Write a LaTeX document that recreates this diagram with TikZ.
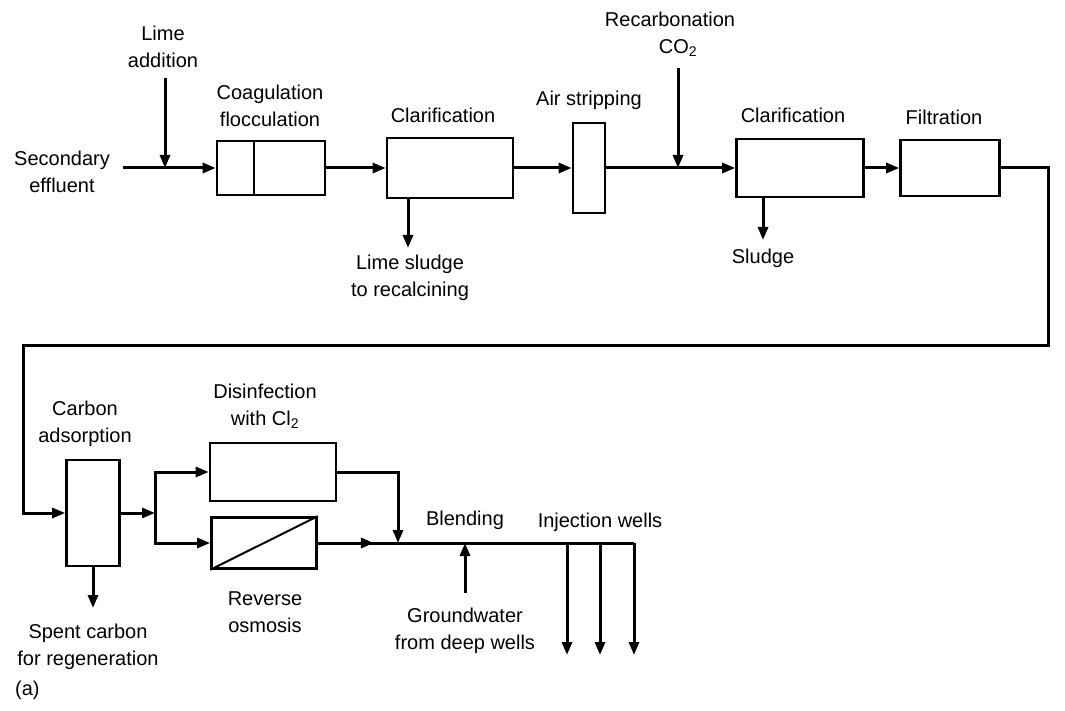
\documentclass[tikz,border=0pt]{standalone}
\usepackage{fontspec}
\setmainfont{Liberation Sans}
\usetikzlibrary{arrows.meta,decorations.markings}
\begin{document}
\begin{tikzpicture}[x=1pt,y=-1pt,
 box/.style={draw,line width=2.6pt,rectangle,inner sep=0pt},
 pipe/.style={line width=3pt},
 flow/.style={line width=3pt,-{Triangle[length=13pt,width=10pt]}},
 midarrow/.style={line width=3pt,postaction={decorate},decoration={markings,mark=at position #1 with {\arrow{Triangle[length=13pt,width=10pt]}}}},
 lbl/.style={align=center,font=\fontsize{20}{27}\selectfont,inner sep=0pt}
]
\useasboundingbox[fill=white] (0,0) rectangle (1065,711);

% boxes
\node[box,minimum width=108pt,minimum height=54pt] (coag) at (271,168) {};
\draw[line width=2.6pt] (254,141) -- (254,195);
\node[box,minimum width=126pt,minimum height=60pt] (clar1) at (450,168) {};
\node[box,minimum width=32pt,minimum height=90pt] (air) at (589,168) {};
\node[box,minimum width=127pt,minimum height=58pt] (clar2) at (800,168) {};
\node[box,minimum width=99pt,minimum height=56pt] (filt) at (950,168) {};
\node[box,minimum width=53pt,minimum height=106pt] (carb) at (93,513) {};
\node[box,minimum width=126pt,minimum height=58pt] (dis) at (273,472) {};
\node[box,minimum width=105pt,minimum height=51pt] (ro) at (264,543) {};
\draw[line width=2pt] (ro.south west) -- (ro.north east);

% labels
\node[lbl] (tseff) at (62,172) {Secondary\\effluent};
\node[lbl] (tlime) at (163,47) {Lime\\addition};
\node[lbl] (tcoag) at (270,106) {Coagulation\\flocculation};
\node[lbl] (tclar1) at (443,115) {Clarification};
\node[lbl] (tls) at (410,278) {Lime sludge\\to recalcining};
\node[lbl] (tair) at (589,100) {Air stripping};
\node[lbl,align=center] (trec) at (670,34) {Recarbonation\\\hspace*{16pt}CO\textsubscript{2}};
\node[lbl] (tclar2) at (793,115) {Clarification};
\node[lbl] (tsl) at (763,258) {Sludge};
\node[lbl] (tfilt) at (944,117) {Filtration};
\node[lbl] (tcarb) at (85,424) {Carbon\\adsorption};
\node[lbl] (tdis) at (265,406) {Disinfection\\with Cl\textsubscript{2}};
\node[lbl] (tro) at (265,612) {Reverse\\osmosis};
\node[lbl] (tspent) at (88,647) {Spent carbon\\for regeneration};
\node[lbl] (tblend) at (465,520) {Blending};
\node[lbl] (tinj) at (600,522) {Injection wells};
\node[lbl] (tgw) at (465,631) {Groundwater\\from deep wells};
\node[lbl,anchor=west] (ta) at (15,690) {(a)};

% coordinates
\coordinate (seff) at (123,168);
\coordinate (jlime) at (165,168);
\coordinate (limetop) at (165,78);
\coordinate (co2top) at (678,68);
\coordinate (jco2) at (678,168);
\coordinate (ls) at (408,248);
\coordinate (sl) at (763,240);
\coordinate (c1) at (1048,168);
\coordinate (c2) at (1048,345);
\coordinate (c3) at (23,345);
\coordinate (sc) at (93,608);
\coordinate (js) at (155,513);
\coordinate (jt) at (155,472);
\coordinate (jb) at (155,543);
\coordinate (d1) at (398,472);
\coordinate (jbl) at (398,543);
\coordinate (gw) at (465,543);
\coordinate (gwb) at (465,593);
\coordinate (w1) at (567,543);
\coordinate (w2) at (600,543);
\coordinate (w3) at (634,543);

% connectors
\draw[pipe] (seff) -- (jlime);
\draw[flow] (jlime) -- (coag.west);
\draw[flow] (limetop) -- (jlime);
\draw[flow] (coag.east) -- (clar1.west);
\draw[flow] (clar1.south -| ls) -- (ls);
\draw[flow] (clar1.east) -- (air.west);
\draw[flow] (air.east) -- (clar2.west);
\draw[flow] (co2top) -- (jco2);
\draw[flow] (clar2.south -| sl) -- (sl);
\draw[flow] (clar2.east) -- (filt.west);
\draw[flow] (filt.east) -- (c1) -- (c2) -- (c3) |- (carb.west);
\draw[flow] (carb.south) -- (sc);
\draw[flow] (carb.east) -- (js);
\draw[pipe,line cap=rect] (jt) -- (jb);
\draw[flow] (jt) -- (dis.west);
\draw[flow] (jb) -- (ro.west);
\draw[flow] (dis.east) -- (d1) -- (jbl);
\draw[midarrow=0.7] (ro.east) -- (jbl);
\draw[pipe] (jbl) -- (w3);
\draw[flow] (gwb) -- (gw);
\draw[flow] (w1) -- (567,655);
\draw[flow] (w2) -- (600,655);
\draw[flow] (w3) -- (634,655);
\end{tikzpicture}
\end{document}
